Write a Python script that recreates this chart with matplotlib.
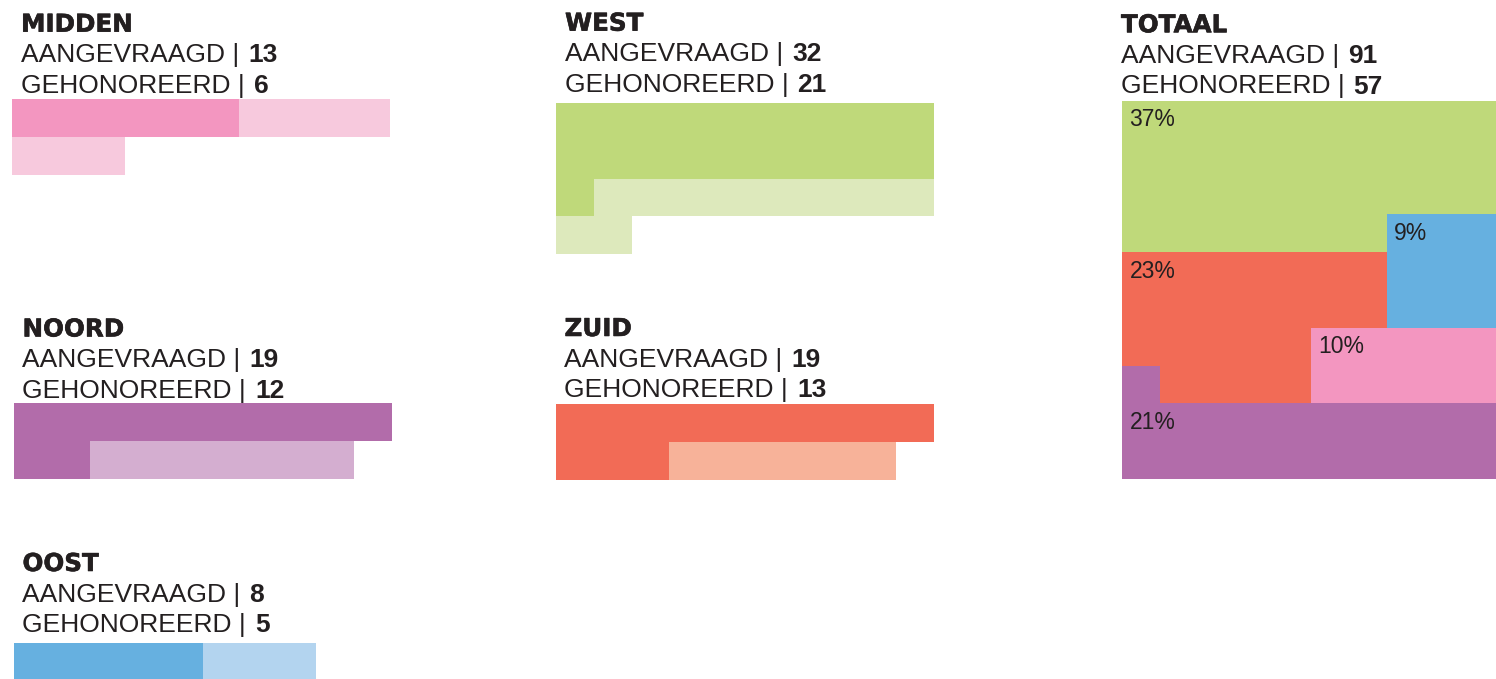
import matplotlib
matplotlib.use("Agg")
import matplotlib.pyplot as plt
import matplotlib.patheffects as pe
from matplotlib.patches import Rectangle

# data
REGIONS = ["MIDDEN", "NOORD", "OOST", "WEST", "ZUID"]
REQUESTED = [13, 19, 8, 32, 19]
HONORED = [6, 12, 5, 21, 13]
DARK = ["#f396c0", "#b26caa", "#66b0e0", "#bfd97a", "#f26b56"]
LIGHT = ["#f7c9dd", "#d4aed0", "#b3d4ef", "#dde9bc", "#f7b299"]

TOTAL_LABEL = "TOTAAL"
TOTAL_REQUESTED = 91
TOTAL_HONORED = 57
# share of honored requests per region (percent), same order as REGIONS
TOTAL_PCT = [10, 21, 9, 37, 23]
# 10x10 layout of the percentage blocks (M=midden, N=noord, O=oost, W=west, Z=zuid)
TOTAL_GRID = [
    "WWWWWWWWWW",
    "WWWWWWWWWW",
    "WWWWWWWWWW",
    "WWWWWWWOOO",
    "ZZZZZZZOOO",
    "ZZZZZZZOOO",
    "ZZZZZMMMMM",
    "NZZZZMMMMM",
    "NNNNNNNNNN",
    "NNNNNNNNNN",
]
GRID_KEYS = ["M", "N", "O", "W", "Z"]

# layout (pixels): text x, title baseline, bar origin
LAYOUT = {
    "MIDDEN": dict(tx=21, ty=31.7, bx=12, by=99),
    "NOORD": dict(tx=22.5, ty=336.5, bx=14, by=403),
    "OOST": dict(tx=22.5, ty=571, bx=14, by=643),
    "WEST": dict(tx=565, ty=30.7, bx=556, by=103),
    "ZUID": dict(tx=564.5, ty=336, bx=556, by=404),
    "TOTAAL": dict(tx=1121, ty=32.3, bx=1122, by=101),
}
CELL = 37.8
PER_ROW = 10
LINE_GAP = 30.6
INK = "#231f20"
TEXT_FONT = "Liberation Sans"
TITLE_FONT = "DejaVu Sans"
# titles are a heavy weight in the original, thicken a little
HEAVY = [pe.withStroke(linewidth=0.4, foreground=INK)]


def header(ax, name, requested, honored):
    lay = LAYOUT[name]
    ax.text(lay["tx"], lay["ty"], name, family=TITLE_FONT, weight="bold",
            fontsize=17.7, color=INK, va="baseline", ha="left",
            path_effects=HEAVY)
    for i, (label, value) in enumerate([("AANGEVRAAGD", requested),
                                        ("GEHONOREERD", honored)]):
        y = lay["ty"] + LINE_GAP * (i + 1)
        t = ax.text(lay["tx"], y, label + " | ", family=TEXT_FONT,
                    fontsize=19, color=INK, va="baseline", ha="left")
        ax.annotate(str(value), xy=(1, 0), xycoords=t, xytext=(1.5, 0),
                    textcoords="offset pixels", family=TEXT_FONT,
                    weight="bold", fontsize=19, color=INK,
                    va="bottom", ha="left")


def draw_rows(ax, x0, y0, rows):
    # rows: list of lists of colours; contiguous same colours are merged
    for r, row in enumerate(rows):
        c = 0
        while c < len(row):
            start = c
            while c + 1 < len(row) and row[c + 1] == row[start]:
                c += 1
            ax.add_patch(Rectangle((x0 + start * CELL, y0 + r * CELL),
                                   (c - start + 1) * CELL, CELL,
                                   facecolor=row[start], linewidth=0,
                                   antialiased=False))
            c += 1


def main():
    fig = plt.figure(figsize=(14.96, 6.79), dpi=100)
    ax = fig.add_axes([0, 0, 1, 1])
    ax.set_xlim(0, 1496)
    ax.set_ylim(679, 0)
    ax.axis("off")

    for name, req, hon, dark, light in zip(REGIONS, REQUESTED, HONORED, DARK, LIGHT):
        header(ax, name, req, hon)
        lay = LAYOUT[name]
        colours = [dark if i < hon else light for i in range(req)]
        rows = [colours[i:i + PER_ROW] for i in range(0, req, PER_ROW)]
        draw_rows(ax, lay["bx"], lay["by"], rows)

    # totaal block
    header(ax, TOTAL_LABEL, TOTAL_REQUESTED, TOTAL_HONORED)
    lay = LAYOUT[TOTAL_LABEL]
    rows = [[DARK[GRID_KEYS.index(k)] for k in row] for row in TOTAL_GRID]
    draw_rows(ax, lay["bx"], lay["by"], rows)

    # percentage labels: first cell of a block that has room to the right
    for key, pct in zip(GRID_KEYS, TOTAL_PCT):
        placed = False
        for r, row in enumerate(TOTAL_GRID):
            for c, k in enumerate(row):
                if k == key and c + 1 < PER_ROW and row[c + 1] == key:
                    ax.text(lay["bx"] + c * CELL + 7.5, lay["by"] + r * CELL + 25.5,
                            f"{pct}%", family=TEXT_FONT, fontsize=16.5,
                            color=INK, va="baseline", ha="left")
                    placed = True
                    break
            if placed:
                break

    fig.savefig("out.png", dpi=100)


if __name__ == "__main__":
    main()
